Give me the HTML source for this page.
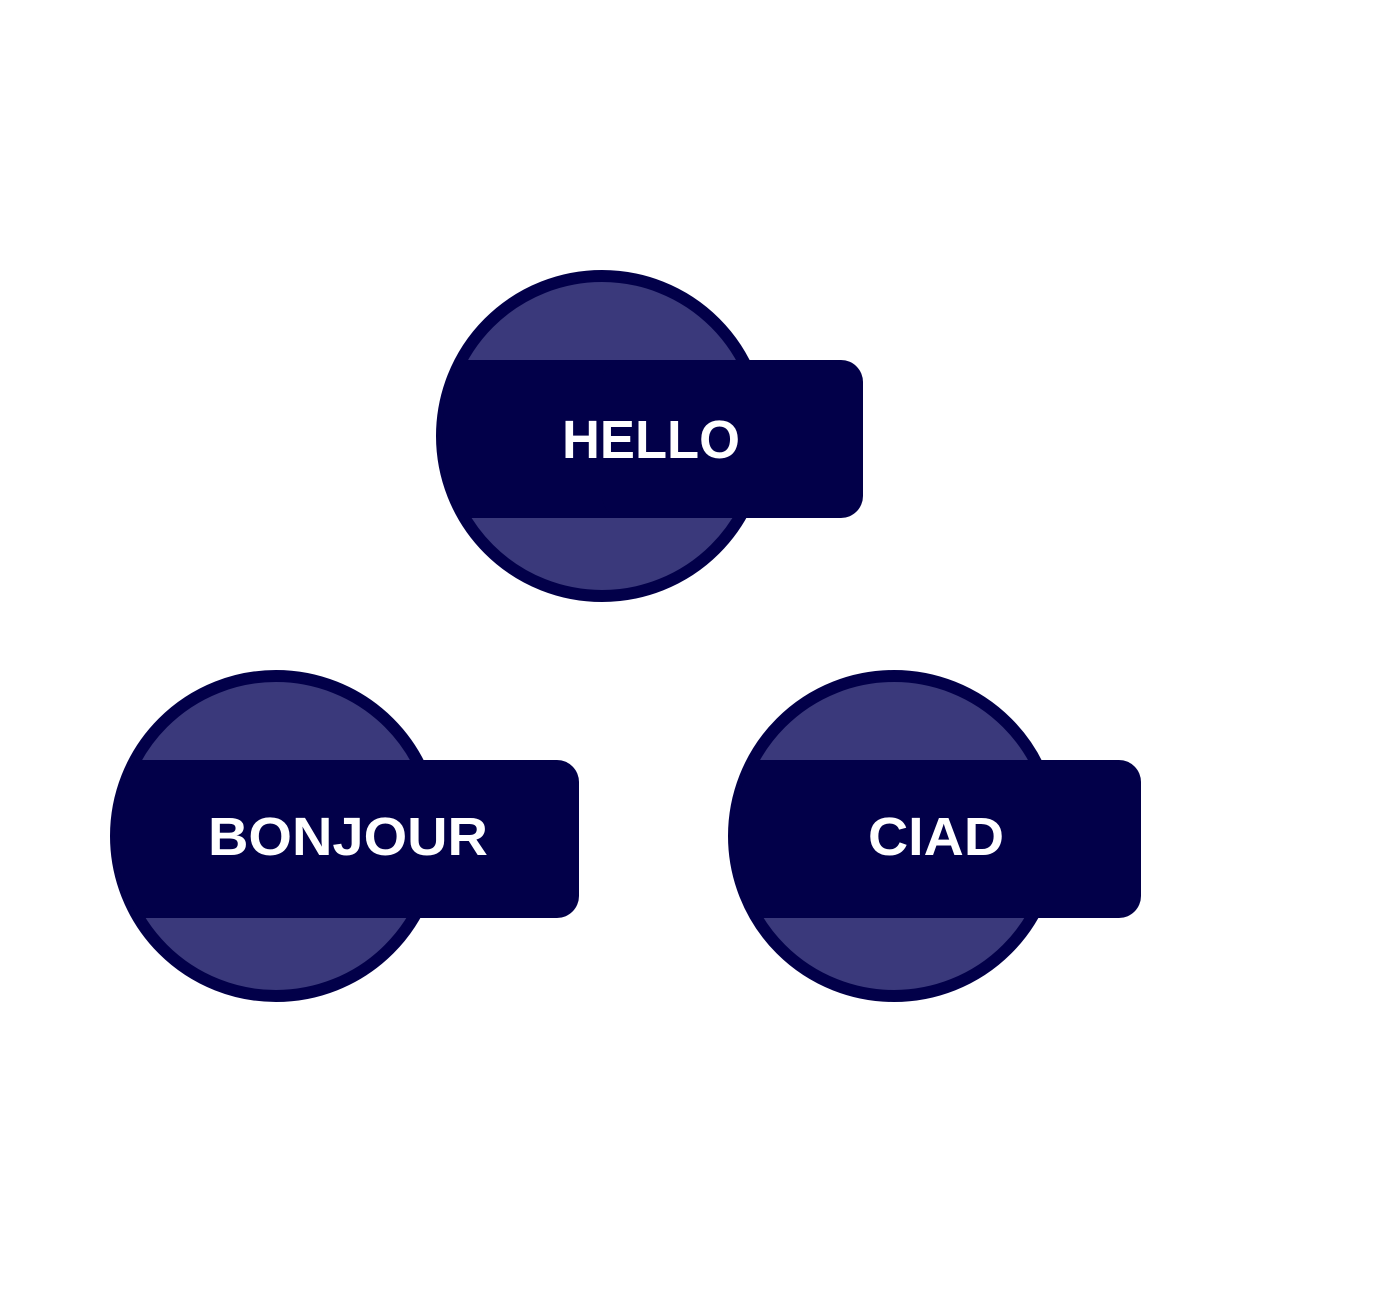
<!DOCTYPE html>
<html><head><style>html,body{margin:0;padding:0;background:#fff;width:1400px;height:1300px;overflow:hidden}</style></head>
<body>
<svg width="1400" height="1300" xmlns="http://www.w3.org/2000/svg">
<defs>
<clipPath id="c1"><circle cx="602" cy="436" r="160"/></clipPath>
<clipPath id="c2"><circle cx="276" cy="836" r="160"/></clipPath>
<clipPath id="c3"><circle cx="894" cy="836" r="160"/></clipPath>
</defs>
<g font-family="Liberation Sans, sans-serif" font-size="54" font-weight="bold" fill="#fff" text-anchor="middle">
<circle cx="602" cy="436" r="160" fill="#3a397b" stroke="#020049" stroke-width="12"/>
<rect x="430" y="360" width="200" height="158" fill="#020049" clip-path="url(#c1)"/>
<rect x="602" y="360" width="261" height="158" rx="22" fill="#020049"/>
<text x="651" y="458" textLength="178" lengthAdjust="spacingAndGlyphs">HELLO</text>
<circle cx="276" cy="836" r="160" fill="#3a397b" stroke="#020049" stroke-width="12"/>
<rect x="100" y="760" width="200" height="158" fill="#020049" clip-path="url(#c2)"/>
<rect x="276" y="760" width="303" height="158" rx="22" fill="#020049"/>
<text x="348" y="855" textLength="280" lengthAdjust="spacingAndGlyphs">BONJOUR</text>
<circle cx="894" cy="836" r="160" fill="#3a397b" stroke="#020049" stroke-width="12"/>
<rect x="720" y="760" width="200" height="158" fill="#020049" clip-path="url(#c3)"/>
<rect x="894" y="760" width="247" height="158" rx="22" fill="#020049"/>
<text x="936" y="855" textLength="136" lengthAdjust="spacingAndGlyphs">CIAD</text>
</g>
</svg>
</body></html>
